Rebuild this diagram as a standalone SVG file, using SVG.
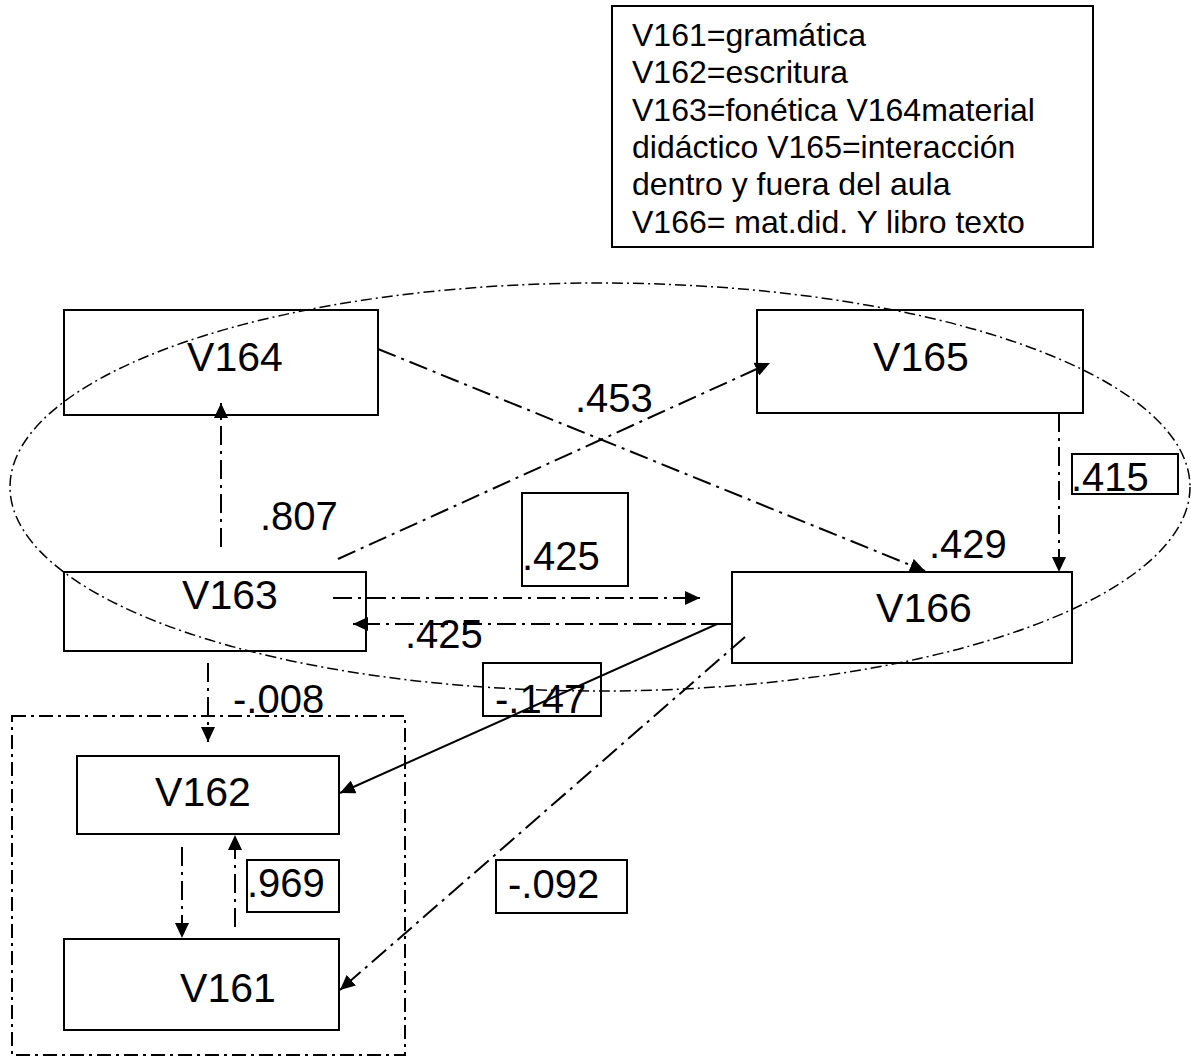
<svg xmlns="http://www.w3.org/2000/svg" width="1191" height="1057" viewBox="0 0 1191 1057">
<defs>
<style>
.box{fill:none;stroke:#000;stroke-width:2}
.lbl{font-family:"Liberation Sans",Arial,sans-serif;font-size:40px;fill:#000}
.nl{font-family:"Liberation Sans",Arial,sans-serif;font-size:41px;fill:#000;text-anchor:middle}
.leg{font-family:"Liberation Sans",Arial,sans-serif;font-size:32px;fill:#000}
.dd{fill:none;stroke:#000;stroke-width:2;stroke-dasharray:19 6 3 6}
.solid{fill:none;stroke:#000;stroke-width:2}
.ell{fill:none;stroke:#000;stroke-width:1.5;stroke-dasharray:11 4 2 4}
.grp{fill:none;stroke:#000;stroke-width:2;stroke-dasharray:14 5 3 5}
</style>
<marker id="ah" viewBox="0 0 15 14" refX="15" refY="7" markerWidth="15" markerHeight="14" orient="auto" markerUnits="userSpaceOnUse"><path d="M0,0 L15,7 L0,14 z" fill="#000"/></marker>
</defs>
<rect width="1191" height="1057" fill="#fff"/>
<g id="legend">
<rect class="box" x="612" y="6" width="481" height="241"/>
<text class="leg" x="632" y="46">V161=gramática</text>
<text class="leg" x="632" y="83">V162=escritura</text>
<text class="leg" x="632" y="121">V163=fonética V164material</text>
<text class="leg" x="632" y="158">didáctico V165=interacción</text>
<text class="leg" x="632" y="195">dentro y fuera del aula</text>
<text class="leg" x="632" y="233">V166= mat.did. Y libro texto</text>
</g>
<g id="groups">
<ellipse class="ell" cx="600" cy="487" rx="590" ry="204"/>
<rect class="grp" x="12" y="716" width="393" height="339"/>
</g>
<g id="V164"><rect class="box" x="64" y="310" width="314" height="105"/><text class="nl" x="235" y="371">V164</text></g>
<g id="V165"><rect class="box" x="757" y="310" width="326" height="103"/><text class="nl" x="921" y="371">V165</text></g>
<g id="V163"><rect class="box" x="64" y="572" width="302" height="79"/><text class="nl" x="230" y="609">V163</text></g>
<g id="V166"><rect class="box" x="732" y="572" width="340" height="91"/><text class="nl" x="924" y="622">V166</text></g>
<g id="V162"><rect class="box" x="77" y="756" width="262" height="78"/><text class="nl" x="203" y="806">V162</text></g>
<g id="V161"><rect class="box" x="64" y="939" width="275" height="91"/><text class="nl" x="228" y="1002">V161</text></g>
<g id="connectors">
<line class="dd" x1="221" y1="547" x2="221" y2="403" marker-end="url(#ah)"/>
<line class="dd" x1="338" y1="559" x2="770" y2="363" marker-end="url(#ah)"/>
<line class="dd" x1="378" y1="349" x2="925" y2="571" marker-end="url(#ah)"/>
<line class="dd" x1="1059" y1="413" x2="1059" y2="572" marker-end="url(#ah)"/>
<line class="dd" x1="333" y1="598" x2="700" y2="598" marker-end="url(#ah)"/>
<line class="dd" x1="720" y1="624" x2="353" y2="624" marker-end="url(#ah)"/>
<path class="solid" d="M732,624 H717 L340,793" marker-end="url(#ah)"/>
<line class="dd" x1="745" y1="637" x2="340" y2="990" marker-end="url(#ah)"/>
<line class="dd" x1="208" y1="663" x2="208" y2="742" marker-end="url(#ah)"/>
<line class="dd" x1="182" y1="847" x2="182" y2="938" marker-end="url(#ah)"/>
<line class="dd" x1="235" y1="927" x2="235" y2="835" marker-end="url(#ah)"/>
</g>
<g id="labels">
<text class="lbl" x="260" y="530">.807</text>
<text class="lbl" x="575" y="412">.453</text>
<rect class="box" x="522" y="493" width="106" height="93"/>
<text class="lbl" x="522" y="570">.425</text>
<text class="lbl" x="929" y="558">.429</text>
<rect class="box" x="1072" y="454" width="106" height="40"/>
<text class="lbl" x="1071" y="491">.415</text>
<text class="lbl" x="405" y="648">.425</text>
<rect class="box" x="483" y="663" width="118" height="53"/>
<text class="lbl" x="495" y="713">-.147</text>
<text class="lbl" x="233" y="713">-.008</text>
<rect class="box" x="247" y="860" width="92" height="52"/>
<text class="lbl" x="247" y="897">.969</text>
<rect class="box" x="496" y="860" width="131" height="53"/>
<text class="lbl" x="508" y="898">-.092</text>
</g>
</svg>
